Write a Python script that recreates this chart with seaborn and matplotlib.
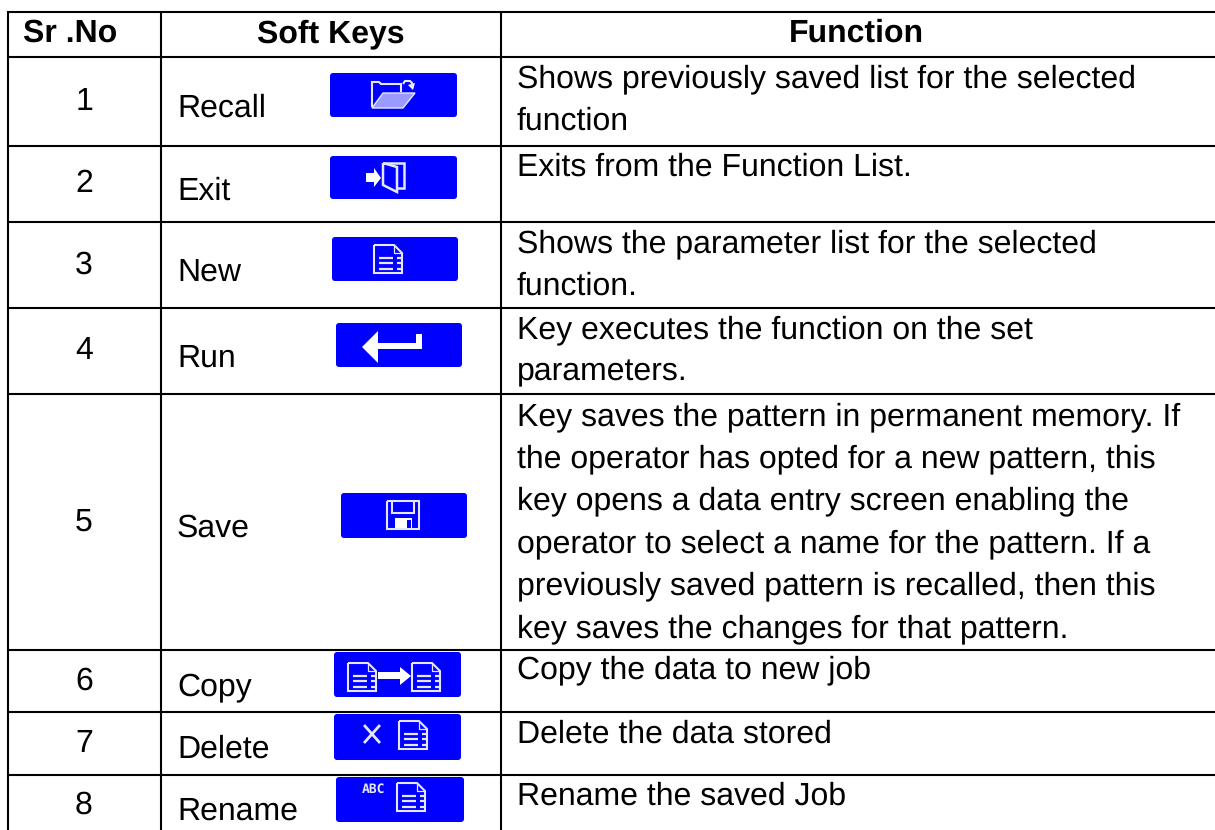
import seaborn as sns
import matplotlib.pyplot as plt
from matplotlib.patches import FancyBboxPatch, Polygon, Rectangle

# table content
headers = ['Sr .No', 'Soft Keys', 'Function']
sr_no = ['1', '2', '3', '4', '5', '6', '7', '8']
soft_keys = ['Recall', 'Exit', 'New', 'Run', 'Save', 'Copy', 'Delete', 'Rename']
functions = [
    ['Shows previously saved list for the selected', 'function'],
    ['Exits from the Function List.'],
    ['Shows the parameter list for the selected', 'function.'],
    ['Key executes the function on the set', 'parameters.'],
    ['Key saves the pattern in permanent memory. If',
     'the operator has opted for a new pattern, this',
     'key opens a data entry screen enabling the',
     'operator to select a name for the pattern. If a',
     'previously saved pattern is recalled, then this',
     'key saves the changes for that pattern.'],
    ['Copy the data to new job'],
    ['Delete the data stored'],
    ['Rename the saved Job'],
]

# layout, in pixels of the 1215x830 page
row_lines = [12, 57, 146, 222, 308, 394, 650, 712, 775]
col_lines = [8, 161, 501]
num_base = [110, 192, 274, 359, 531, 690, 752, 814]
key_base = [117, 200, 281, 367, 537, 695, 758, 820]
func_base = [87, 176, 252, 338, 425, 678, 743, 805]
line_step = 42.4
buttons = [
    (330, 73, 457, 117), (330, 156, 457, 199), (332, 237, 458, 281),
    (336, 323, 462, 367), (341, 493, 467, 538), (334, 652, 461, 697),
    (334, 714, 461, 760), (336, 777, 464, 822),
]
BLUE = '#0000ff'
FS = 23.0

sns.set_theme(style='white')
plt.rcParams['font.family'] = ['Liberation Sans', 'DejaVu Sans']
plt.rcParams['text.hinting'] = 'no_hinting'
plt.rcParams['text.hinting_factor'] = 1

dpi = 100
fig = plt.figure(figsize=(1215 / dpi, 830 / dpi), dpi=dpi)
ax = fig.add_axes([0, 0, 1, 1])
ax.set_xlim(0, 1215)
ax.set_ylim(830, 0)
ax.axis('off')

# grid
ax.hlines(row_lines, col_lines[0] - 1, 1215, color='black', lw=1.5)
ax.vlines(col_lines, row_lines[0], 830, color='black', lw=1.5)

# header
ax.text(70, 42, headers[0], ha='center', va='baseline', fontsize=FS, fontweight='bold', color='black')
ax.text(331, 42, headers[1], ha='center', va='baseline', fontsize=FS, fontweight='bold', color='black')
ax.text(856, 42, headers[2], ha='center', va='baseline', fontsize=FS, fontweight='bold', color='black')

# body
for i in range(len(sr_no)):
    ax.text(84, num_base[i], sr_no[i], ha='center', va='baseline', fontsize=FS, color='black')
    ax.text(177, key_base[i], soft_keys[i], ha='left', va='baseline', fontsize=FS, color='black')
    for j, line in enumerate(functions[i]):
        ax.text(517, func_base[i] + j * line_step, line, ha='left', va='baseline', fontsize=FS, color='black')


def seg(xs, ys, lw=1.5):
    ax.plot(xs, ys, color='#e6e6ff', lw=lw, solid_capstyle='butt', solid_joinstyle='miter')


def doc(x, y, w=28, h=28):
    # page with folded corner and three text lines
    seg([x, x + w - 8, x + w, x + w, x, x], [y, y, y + 8, y + h, y + h, y])
    seg([x + w - 8, x + w - 8, x + w], [y, y + 8, y + 8], lw=0.9)
    for k in (0.45, 0.65, 0.85):
        seg([x + 5, x + w - 9], [y + k * h, y + k * h], lw=1.6)
        seg([x + w - 5, x + w], [y + k * h, y + k * h], lw=1.6)


def icon_recall(b):
    x, y = b[0] + 42, b[1] + 8
    seg([x, x, x + 7, x + 9, x + 29, x + 29], [y + 26, y + 1, y + 1, y + 3, y + 3, y + 11])
    ax.add_patch(Polygon([(x, y + 27), (x + 11, y + 12), (x + 43, y + 12), (x + 31, y + 27)],
                         closed=True, fc='#9a9aff', ec='#e6e6ff', lw=1.0))
    seg([x + 31, x + 33, x + 38, x + 40, x + 40], [y + 3, y, y, y + 2, y + 6])
    ax.add_patch(Polygon([(x + 36, y + 4), (x + 43, y + 2), (x + 41, y + 9)], closed=True, fc='white', ec='none'))


def icon_exit(b):
    x, y = b[0] + 36, b[1] + 6
    ax.add_patch(Polygon([(x, y + 11), (x + 8, y + 11), (x + 8, y + 6), (x + 15, y + 16), (x + 8, y + 25),
                          (x + 8, y + 20), (x, y + 20)], closed=True, fc='white', ec='none'))
    seg([x + 17, x + 38, x + 38, x + 31], [y + 1, y + 1, y + 26, y + 26], lw=1.8)
    seg([x + 17, x + 31, x + 31, x + 17, x + 17], [y + 1, y + 5, y + 30, y + 23, y + 1], lw=1.8)


def icon_new(b):
    doc(b[0] + 42, b[1] + 8)


def icon_run(b):
    x, y = b[0] + 26, b[1] + 8
    ax.add_patch(Polygon([(x, y + 16), (x + 16, y), (x + 16, y + 12), (x + 54, y + 12), (x + 54, y + 3),
                          (x + 60, y + 3), (x + 60, y + 18), (x + 16, y + 18), (x + 16, y + 32)],
                         closed=True, fc='white', ec='none'))


def icon_save(b):
    x, y = b[0] + 46, b[1] + 8
    seg([x, x + 32, x + 32, x, x], [y, y, y + 28, y + 28, y])
    seg([x + 5, x + 5, x + 27, x + 27], [y, y + 12, y + 12, y])
    ax.add_patch(Rectangle((x + 8, y + 17), 17, 11, fc='white', ec='none'))
    ax.add_patch(Rectangle((x + 20, y + 19), 4, 9, fc=BLUE, ec='none'))


def icon_copy(b):
    doc(b[0] + 14, b[1] + 11)
    doc(b[0] + 78, b[1] + 11)
    ax.add_patch(Polygon([(b[0] + 44, b[1] + 20), (b[0] + 66, b[1] + 20), (b[0] + 66, b[1] + 15),
                          (b[0] + 77, b[1] + 24), (b[0] + 66, b[1] + 33), (b[0] + 66, b[1] + 27),
                          (b[0] + 44, b[1] + 27)], closed=True, fc='white', ec='none'))


def icon_delete(b):
    x, y = b[0] + 30, b[1] + 11
    seg([x, x + 16], [y, y + 18], lw=2.0)
    seg([x + 16, x], [y, y + 18], lw=2.0)
    doc(b[0] + 65, b[1] + 7)


def icon_rename(b):
    ax.text(b[0] + 37.5, b[1] + 16, 'ABC', ha='center', va='baseline', fontsize=9.0, fontweight='bold',
            color='#e6e6ff', family='DejaVu Sans Mono')
    doc(b[0] + 61, b[1] + 6)


icons = [icon_recall, icon_exit, icon_new, icon_run, icon_save, icon_copy, icon_delete, icon_rename]
for b, draw in zip(buttons, icons):
    ax.add_patch(FancyBboxPatch((b[0] + 2, b[1] + 2), b[2] - b[0] - 4, b[3] - b[1] - 4,
                                boxstyle='round,pad=2,rounding_size=3', fc=BLUE, ec='none', zorder=1))
    draw(b)

fig.savefig('out.png', dpi=dpi, facecolor='white')
